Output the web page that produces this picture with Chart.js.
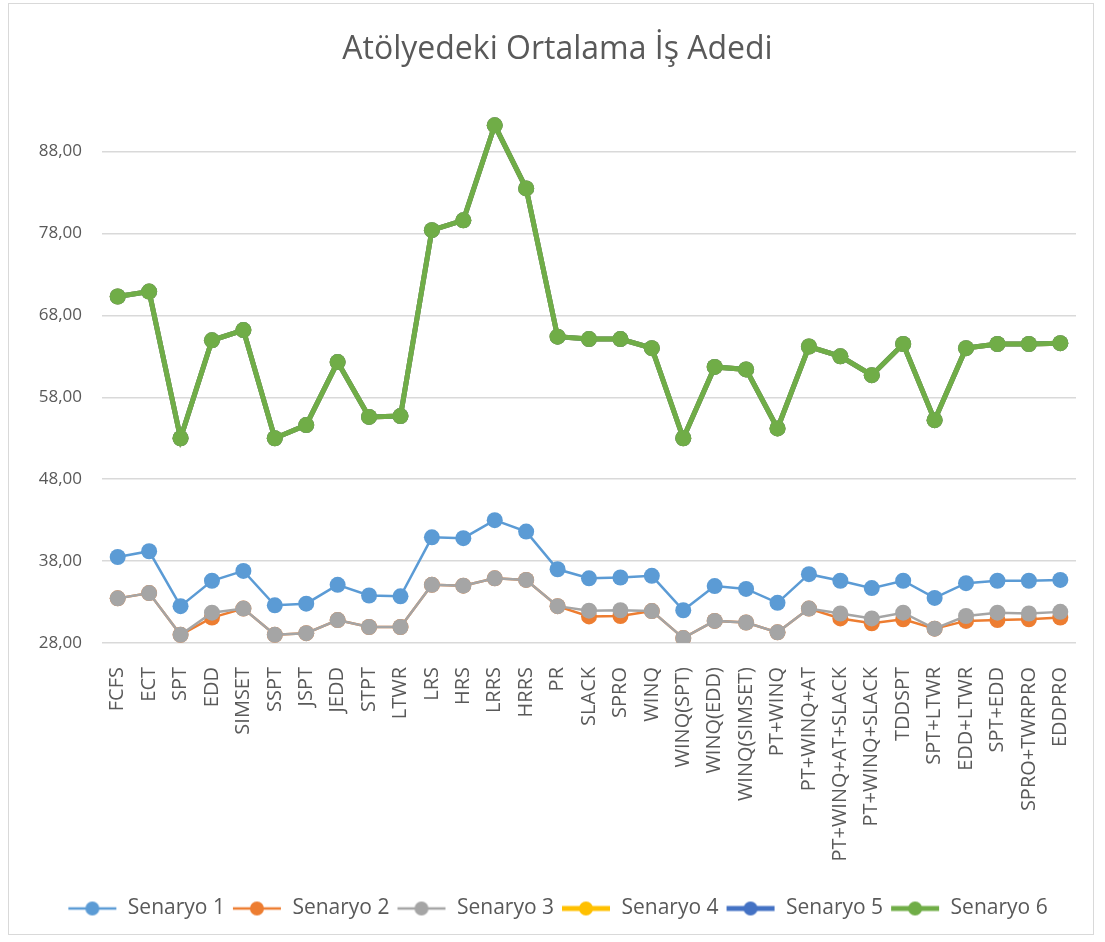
<!DOCTYPE html>
<html>
<head>
<meta charset="utf-8">
<script src="https://cdn.jsdelivr.net/npm/chart.js@4/dist/chart.umd.min.js"></script>
<style>
html, body { margin: 0; padding: 0; background: #fff; }
#frame { position: absolute; left: 8px; top: 3px; width: 1086px; height: 932px; border: 1px solid #d9d9d9; box-sizing: border-box; }
#wrap { position: absolute; left: 0; top: 0; width: 1105px; height: 942px; }
</style>
</head>
<body>
<div id="frame"></div>
<div id="wrap"><canvas id="chart"></canvas></div>
<script>
// data
const categories = ["FCFS","ECT","SPT","EDD","SIMSET","SSPT","JSPT","JEDD","STPT","LTWR","LRS","HRS","LRRS","HRRS","PR","SLACK","SPRO","WINQ","WINQ(SPT)","WINQ(EDD)","WINQ(SIMSET)","PT+WINQ","PT+WINQ+AT","PT+WINQ+AT+SLACK","PT+WINQ+SLACK","TDDSPT","SPT+LTWR","EDD+LTWR","SPT+EDD","SPRO+TWRPRO","EDDPRO"];

const senaryo1 = [38.5,39.2,32.5,35.6,36.8,32.6,32.8,35.1,33.8,33.7,40.9,40.8,43.0,41.6,37.0,35.9,36.0,36.2,32.0,34.95,34.6,32.9,36.4,35.6,34.7,35.6,33.5,35.3,35.6,35.6,35.7];
const senaryo2 = [33.45,34.1,29.0,31.1,32.2,29.0,29.2,30.8,29.95,29.95,35.1,35.0,35.9,35.7,32.5,31.25,31.3,31.9,28.6,30.7,30.5,29.3,32.2,31.0,30.4,30.9,29.75,30.7,30.8,30.9,31.1];
const senaryo3 = [33.45,34.1,29.0,31.7,32.2,29.0,29.2,30.8,29.95,29.95,35.1,35.0,35.9,35.7,32.5,31.95,32.0,31.9,28.6,30.7,30.5,29.3,32.2,31.6,31.0,31.7,29.75,31.3,31.7,31.6,31.8];
const senaryo4 = [70.3,70.9,53.0,64.95,66.2,53.0,54.6,62.3,55.6,55.7,78.4,79.6,91.2,83.5,65.4,65.1,65.1,64.0,53.0,61.7,61.4,54.2,64.2,63.0,60.7,64.5,55.2,64.0,64.5,64.5,64.6];
const senaryo5 = [70.3,70.9,53.0,64.95,66.2,53.0,54.6,62.3,55.6,55.7,78.4,79.6,91.2,83.5,65.4,65.1,65.1,64.0,53.0,61.7,61.4,54.2,64.2,63.0,60.7,64.5,55.2,64.0,64.5,64.5,64.6];
const senaryo6 = [70.3,70.9,53.0,64.95,66.2,53.0,54.6,62.3,55.6,55.7,78.4,79.6,91.2,83.5,65.4,65.1,65.1,64.0,53.0,61.7,61.4,54.2,64.2,63.0,60.7,64.5,55.2,64.0,64.5,64.5,64.6];

const yTicks = [28,38,48,58,68,78,88];

const seriesNames = ["Senaryo 1","Senaryo 2","Senaryo 3","Senaryo 4","Senaryo 5","Senaryo 6"];
const seriesData = [senaryo1,senaryo2,senaryo3,senaryo4,senaryo5,senaryo6];
const colors = ["#5B9BD5","#ED7D31","#A5A5A5","#FFC000","#4472C4","#70AD47"];
const widths = [2.5,2.5,2.5,5,5,5];

const textColor = "#595959";
const fontFam = "'Open Sans', 'Noto Sans', sans-serif";

// legend symbol: short line with a dot
function legendIcon(color, w){
  const c = document.createElement("canvas");
  c.width = 50; c.height = 16;
  const g = c.getContext("2d");
  g.strokeStyle = color; g.lineWidth = w;
  g.beginPath(); g.moveTo(1,8); g.lineTo(49,8); g.stroke();
  g.fillStyle = color;
  g.beginPath(); g.arc(25,8,7,0,Math.PI*2); g.fill();
  return c;
}

const datasets = seriesNames.map((name,i) => ({
  label: name,
  data: seriesData[i],
  borderColor: colors[i],
  backgroundColor: colors[i],
  borderWidth: widths[i],
  pointRadius: 8,
  pointHoverRadius: 8,
  pointBorderWidth: 0,
  pointBackgroundColor: colors[i],
  tension: 0,
  order: 6 - i
}));

new Chart(document.getElementById("chart"), {
  type: "line",
  data: { labels: categories, datasets: datasets },
  options: {
    responsive: true,
    maintainAspectRatio: false,
    animation: false,
    layout: { padding: { left: 10, right: 0, top: 22, bottom: 13 } },
    plugins: {
      title: {
        display: true,
        text: "Atölyedeki Ortalama İş Adedi",
        color: textColor,
        font: { family: fontFam, size: 32, weight: "normal" },
        padding: { top: 9, bottom: 33 }
      },
      legend: {
        position: "bottom",
        labels: {
          color: textColor,
          font: { family: fontFam, size: 21 },
          usePointStyle: true,
          pointStyleWidth: 50,
          padding: 7,
          sort: (a,b) => a.datasetIndex - b.datasetIndex,
          generateLabels: chart => chart.data.datasets.map((ds,i) => ({
            text: ds.label,
            datasetIndex: i,
            fontColor: textColor,
            pointStyle: legendIcon(colors[i], widths[i]),
            strokeStyle: colors[i],
            fillStyle: colors[i],
            lineWidth: 0,
            hidden: false
          }))
        }
      },
      tooltip: { enabled: false }
    },
    scales: {
      x: {
        offset: true,
        grid: { display: false, offset: true },
        border: { display: false },
        afterFit: scale => { scale.height = 248; },
        ticks: {
          color: textColor,
          font: { family: fontFam, size: 20 },
          minRotation: 90,
          maxRotation: 90,
          autoSkip: false,
          padding: 16
        }
      },
      y: {
        min: 28,
        max: 94,
        afterBuildTicks: scale => { scale.ticks = yTicks.map(v => ({ value: v })); },
        afterFit: scale => { scale.width = 92; },
        grid: { color: "#d9d9d9", lineWidth: 1.5, drawTicks: false },
        border: { display: false },
        ticks: {
          color: textColor,
          font: { family: fontFam, size: 17 },
          padding: 20,
          callback: v => v.toFixed(2).replace(".", ",")
        }
      },
      // empty right-hand spacer so title and legend sit centred like the original
      yRight: {
        position: "right",
        min: 28,
        max: 94,
        grid: { display: false },
        border: { display: false },
        ticks: { display: false },
        afterFit: scale => { scale.width = 29; }
      }
    }
  }
});
</script>
</body>
</html>
